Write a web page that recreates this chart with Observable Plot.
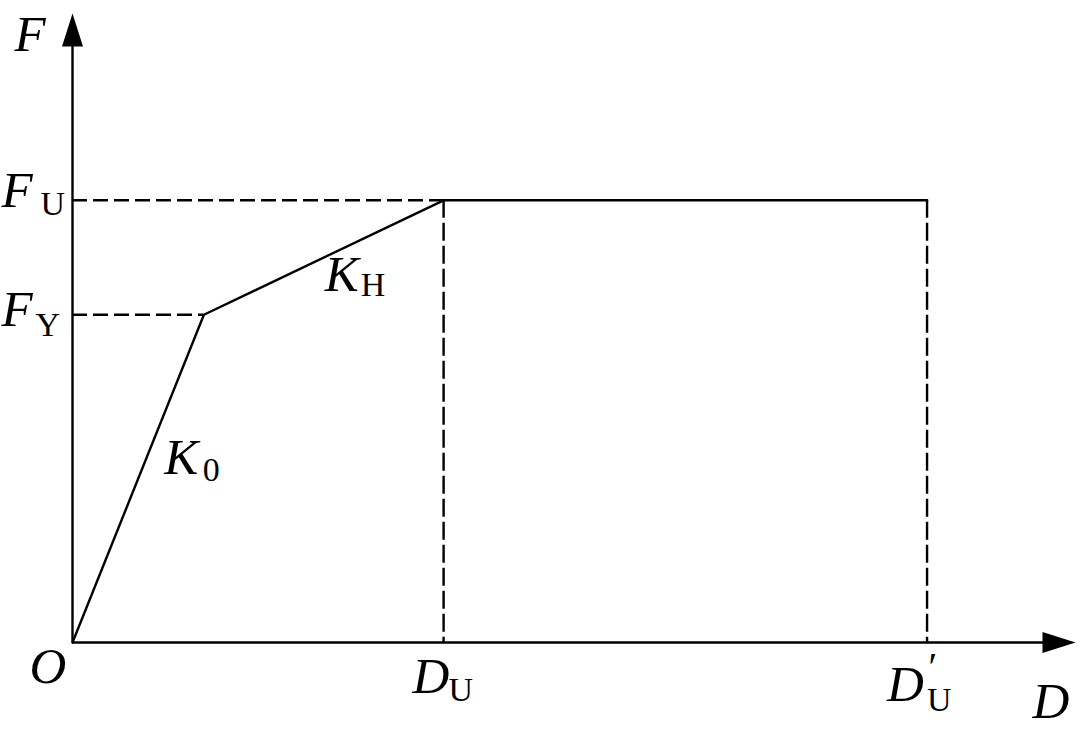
<!DOCTYPE html>
<html>
<head>
<meta charset="utf-8">
<script src="https://cdn.jsdelivr.net/npm/d3@7"></script>
<script src="https://cdn.jsdelivr.net/npm/@observablehq/plot@0.6"></script>
<style>
  html, body { margin: 0; padding: 0; background: #fff; }
  #chart svg { display: block; }
</style>
</head>
<body>
<div id="chart"></div>
<script>
// ---- data (arbitrary units) ----
const D_Y = 13.1;     // yield displacement
const D_U = 37.0;     // ultimate displacement
const D_U2 = 85.2;    // D'_U
const F_Y = 52.1;     // yield force
const F_U = 70.3;     // ultimate force
const AXIS_MAX = 100;

const curveD = [0, D_Y, D_U, D_U2];
const curveF = [0, F_Y, F_U, F_U];
const curve = curveD.map((d, i) => ({d, f: curveF[i]}));

const serif = "'Liberation Serif', 'Times New Roman', serif";
const mainSize = 51;
const subSize = 34;
const lw = 2.4;

// elongated filled arrowhead, tip at origin, pointing up
const arrowHead = {
  draw(ctx) {
    ctx.moveTo(0, 0);
    ctx.lineTo(10.5, 33);
    ctx.lineTo(-10.5, 33);
    ctx.closePath();
  }
};

function lbl(data, opts) {
  return Plot.text(data, {
    fontFamily: serif, fill: "black", lineAnchor: "bottom", textAnchor: "start", ...opts
  });
}
const it = {fontStyle: "italic", fontSize: mainSize};
const up = {fontStyle: "normal", fontSize: subSize};

const dashH = {stroke: "black", strokeWidth: lw, strokeDasharray: "15,6"};
const dashV = {stroke: "black", strokeWidth: lw, strokeDasharray: "18,5"};

const chart = Plot.plot({
  width: 1080,
  height: 732,
  marginLeft: 72,
  marginRight: 5,
  marginTop: 13,
  marginBottom: 90,
  x: {domain: [0, AXIS_MAX], axis: null},
  y: {domain: [0, AXIS_MAX], axis: null},
  style: {background: "white"},
  marks: [
    // axes
    Plot.ruleX([0], {y1: 0, y2: AXIS_MAX - 3, stroke: "black", strokeWidth: lw}),
    Plot.ruleY([0], {x1: 0, x2: AXIS_MAX - 2, stroke: "black", strokeWidth: lw}),
    Plot.dot([{x: 0, y: AXIS_MAX}], {x: "x", y: "y", symbol: arrowHead, r: 5, fill: "black", stroke: null}),
    Plot.dot([{x: AXIS_MAX, y: 0}], {x: "x", y: "y", symbol: arrowHead, r: 5, fill: "black", stroke: null, rotate: 90}),
    // dashed guides
    Plot.ruleY([F_U], {x1: 0, x2: D_U, ...dashH}),
    Plot.ruleY([F_Y], {x1: 0, x2: D_Y, ...dashH}),
    Plot.ruleX([D_U], {y1: F_U, y2: 0, ...dashV}),
    Plot.ruleX([D_U2], {y1: F_U, y2: 0, ...dashV}),
    // force-displacement curve
    Plot.line(curve, {x: "d", y: "f", stroke: "black", strokeWidth: lw, strokeLinejoin: "miter"}),
    // axis titles
    lbl([0], {x: 0, y: AXIS_MAX, text: () => "F", dx: -58, dy: 37, ...it}),
    lbl([0], {x: AXIS_MAX, y: 0, text: () => "D", dx: -43, dy: 75, ...it}),
    lbl([0], {x: 0, y: 0, text: () => "O", dx: -43, dy: 40, ...it}),
    // y tick labels
    lbl([F_U], {x: 0, y: d => d, text: () => "F", dx: -71, dy: 7, ...it}),
    lbl([F_U], {x: 0, y: d => d, text: () => "U", dx: -32, dy: 15, ...up}),
    lbl([F_Y], {x: 0, y: d => d, text: () => "F", dx: -71, dy: 11, ...it}),
    lbl([F_Y], {x: 0, y: d => d, text: () => "Y", dx: -37, dy: 21, ...up}),
    // x tick labels
    lbl([D_U], {x: d => d, y: 0, text: () => "D", dx: -31, dy: 50, ...it}),
    lbl([D_U], {x: d => d, y: 0, text: () => "U", dx: 5, dy: 58, ...up}),
    lbl([D_U2], {x: d => d, y: 0, text: () => "D", dx: -40, dy: 58, ...it}),
    lbl([D_U2], {x: d => d, y: 0, text: () => "U", dx: 0, dy: 68, ...up}),
    lbl([D_U2], {x: d => d, y: 0, text: () => "\u2032", dx: -1, dy: 37, ...it, fontSize: 40}),
    // stiffness labels
    lbl([0], {x: (0 + D_Y) / 2, y: (0 + F_Y) / 2, text: () => "K", dx: 26, dy: -5, ...it}),
    lbl([0], {x: (0 + D_Y) / 2, y: (0 + F_Y) / 2, text: () => "0", dx: 64.5, dy: 2, ...up}),
    lbl([0], {x: (D_Y + D_U) / 2, y: (F_Y + F_U) / 2, text: () => "K", dx: 1, dy: 33, ...it}),
    lbl([0], {x: (D_Y + D_U) / 2, y: (F_Y + F_U) / 2, text: () => "H", dx: 37, dy: 38, ...up})
  ]
});
document.getElementById("chart").appendChild(chart);
</script>
</body>
</html>
